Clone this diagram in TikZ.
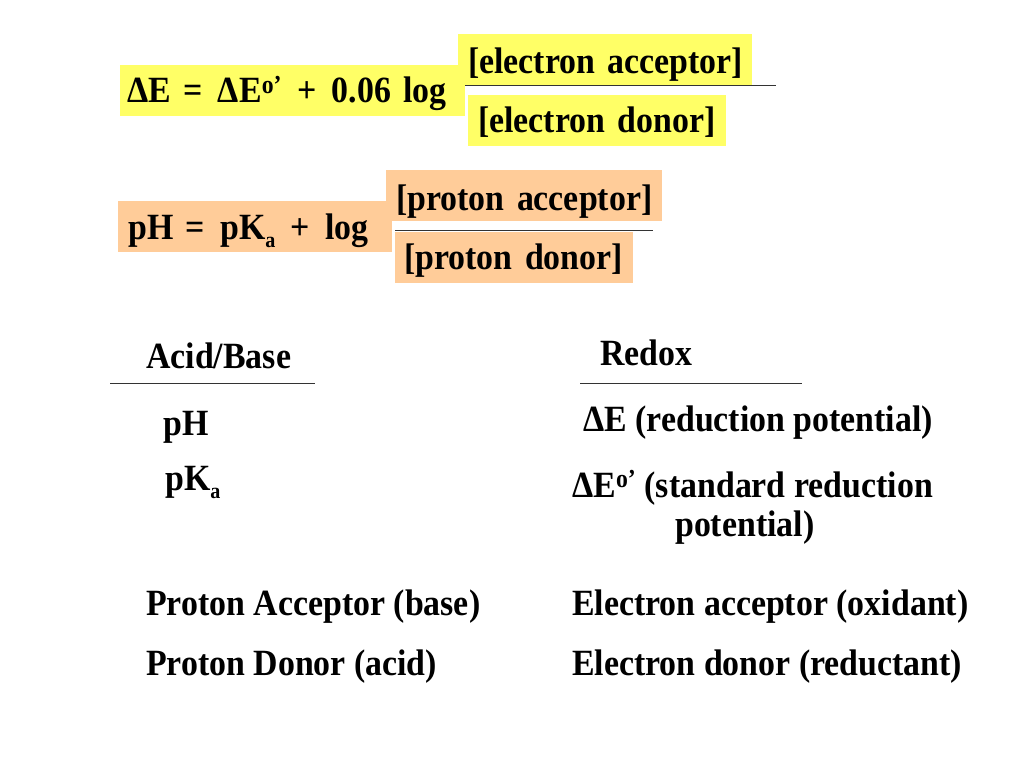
\documentclass[tikz,border=0pt]{standalone}
\usepackage{fontspec}
\setmainfont{Liberation Serif}[FakeStretch=0.915]
\usepackage{tikz}
\definecolor{hiyellow}{RGB}{255,255,102}
\definecolor{hipeach}{RGB}{255,204,153}
\newcommand{\lowsub}[1]{\raisebox{-8pt}{\fontsize{22}{22}\selectfont #1}}
\begin{document}
\begin{tikzpicture}[x=1pt,y=-1pt,
  txt/.style={font=\fontsize{37}{40}\selectfont\bfseries,inner sep=0pt,anchor=base west},
  hibox/.style={font=\fontsize{37}{40}\selectfont\bfseries,fill=#1,anchor=north west,
    inner ysep=0pt,minimum height=51,align=left},
  rule/.style={black!80,line width=1pt}]
\useasboundingbox[fill=white](0,0)rectangle(1024,768);
% Nernst equation
\node[hibox=hiyellow,inner xsep=7,text width=331,text height=29,text depth=5](dE)at(120,65){\mbox{ΔE = \hspace{3pt}ΔE\textsuperscript{o’} \hspace{3pt}+ \hspace{3pt}0.06 log}};
\node[hibox=hiyellow,inner xsep=10,text width=274,text height=31,text depth=3](eacc)at(458,34){\mbox{[electron acceptor]}};
\node[hibox=hiyellow,inner xsep=10,text width=238,text height=29,text depth=5](edon)at(468,95){\mbox{[electron donor]}};
\coordinate(eL)at(465,85);\coordinate(eR)at(776,85);
\draw[rule](eL)--(eR);
% Henderson-Hasselbalch
\node[hibox=hipeach,inner xsep=10,text width=254,text height=30,text depth=4](pH)at(118,201){\mbox{pH = \hspace{3pt}pK\lowsub{a} \hspace{3pt}+ \hspace{3pt}log}};
\node[hibox=hipeach,inner xsep=10,text width=256,text height=32,text depth=2](pacc)at(386,170){\mbox{[proton acceptor]}};
\node[hibox=hipeach,inner xsep=9,text width=220,text height=29,text depth=5](pdon)at(395,232){\mbox{[proton donor]}};
\coordinate(pL)at(395,230);\coordinate(pR)at(653,230);
\draw[rule](pL)--(pR);
% two columns
\node[txt](acid)at(146,368){Acid/Base};
\node[txt](redox)at(600,365){Redox};
\coordinate(aL)at(110,383);\coordinate(aR)at(315,383);
\coordinate(rL)at(580,383);\coordinate(rR)at(802,383);
\draw[rule](aL)--(aR);
\draw[rule](rL)--(rR);
\node[txt](phs)at(163,435){pH};
\node[txt](pka)at(165,490){pK\lowsub{a}};
\node[txt](dEs)at(583,431){ΔE (reduction potential)};
\node[txt](dEo)at(572,497){ΔE\textsuperscript{o’} (standard reduction};
\node[txt](dEp)at(675,536){potential)};
\node[txt](pacct)at(146,615){Proton Acceptor (base)};
\node[txt](pdont)at(146,675){Proton Donor (acid)};
\node[txt](eacct)at(572,615){Electron acceptor (oxidant)};
\node[txt](edont)at(572,675){Electron donor (reductant)};
\end{tikzpicture}
\end{document}
